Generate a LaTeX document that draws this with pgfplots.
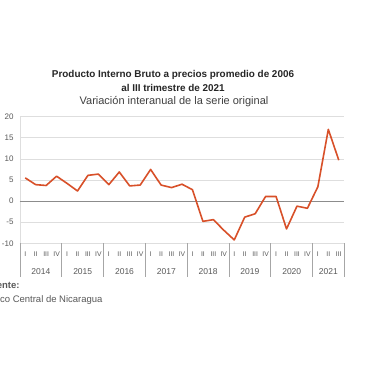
\documentclass[border=0pt]{standalone}
\usepackage{pgfplots}
\pgfplotsset{compat=1.18}
\usepackage{fontspec}
\setmainfont{Liberation Sans}
\definecolor{lineor}{RGB}{216,80,41}
\definecolor{txtgray}{RGB}{89,89,89}
\definecolor{gridgray}{RGB}{222,222,222}
\definecolor{axgray}{RGB}{166,166,166}
\definecolor{zerogray}{RGB}{140,140,140}
\begin{document}
\begin{tikzpicture}[x=1pt,y=1pt]
\useasboundingbox (0,0) rectangle (380,380);
\clip (0,0) rectangle (380,380);
\fill[white] (0,0) rectangle (380,380);
\node[font=\fontsize{9.9}{11}\selectfont\bfseries, text=black!85] at (173,305) {Producto Interno Bruto a precios promedio de 2006};
\node[font=\fontsize{9.9}{11}\selectfont\bfseries, text=black!85] at (173,292) {al III trimestre de 2021};
\node[font=\fontsize{11}{12}\selectfont, text=black!75] at (174,278) {Variación interanual de la serie original};
\node[anchor=west, inner sep=0pt, font=\fontsize{9.5}{11}\selectfont\bfseries, text=txtgray] at (-15,95) {Fuente:};
\node[anchor=west, inner sep=0pt, font=\fontsize{9.5}{11}\selectfont, text=txtgray] at (-17,80) {Banco Central de Nicaragua};
\begin{axis}[
  at={(20pt,136.7pt)}, anchor=south west,
  scale only axis, width=324pt, height=126.6pt,
  xmin=-0.5, xmax=30.5, ymin=-10, ymax=20,
  ytick={-10,-5,0,5,10,15,20},
  yticklabels={-10,-5,0,5,10,15,20},
  xtick={0,...,30},
  xticklabels={I,II,III,IV,I,II,III,IV,I,II,III,IV,I,II,III,IV,I,II,III,IV,I,II,III,IV,I,II,III,IV,I,II,III},
  ymajorgrids, grid style={gridgray, line width=0.7pt},
  axis lines=left,
  axis line style={-, draw=gridgray, line width=0.7pt},
  major tick length=0pt,
  xticklabel style={font=\fontsize{6.8}{7}\selectfont, text=txtgray, yshift=-5pt},
  yticklabel style={font=\fontsize{8}{9}\selectfont, text=txtgray, xshift=-3pt},
  clip=false,
]
\draw[zerogray, line width=0.8pt] (axis cs:-0.5,0) -- (axis cs:30.5,0);
\addplot[lineor, line width=1.6pt, no markers, line join=round] coordinates {
(0,5.5) (1,3.9) (2,3.7) (3,5.9)
(4,4.2) (5,2.4) (6,6.1) (7,6.4)
(8,3.9) (9,6.9) (10,3.6) (11,3.8)
(12,7.5) (13,3.8) (14,3.2) (15,4.0)
(16,2.7) (17,-4.8) (18,-4.4) (19,-6.9)
(20,-9.2) (21,-3.8) (22,-3.0) (23,1.1)
(24,1.1) (25,-6.6) (26,-1.2) (27,-1.7)
(28,3.4) (29,17.0) (30,9.7)
};
\draw[axgray, line width=0.8pt] (axis cs:-0.5,-10) -- ([yshift=-34pt]axis cs:-0.5,-10);
\draw[axgray, line width=0.8pt] (axis cs:3.5,-10) -- ([yshift=-34pt]axis cs:3.5,-10);
\draw[axgray, line width=0.8pt] (axis cs:7.5,-10) -- ([yshift=-34pt]axis cs:7.5,-10);
\draw[axgray, line width=0.8pt] (axis cs:11.5,-10) -- ([yshift=-34pt]axis cs:11.5,-10);
\draw[axgray, line width=0.8pt] (axis cs:15.5,-10) -- ([yshift=-34pt]axis cs:15.5,-10);
\draw[axgray, line width=0.8pt] (axis cs:19.5,-10) -- ([yshift=-34pt]axis cs:19.5,-10);
\draw[axgray, line width=0.8pt] (axis cs:23.5,-10) -- ([yshift=-34pt]axis cs:23.5,-10);
\draw[axgray, line width=0.8pt] (axis cs:27.5,-10) -- ([yshift=-34pt]axis cs:27.5,-10);
\draw[axgray, line width=0.8pt] (axis cs:30.5,-10) -- ([yshift=-34pt]axis cs:30.5,-10);
\node[font=\fontsize{8.5}{9}\selectfont, text=txtgray] at ([yshift=-28pt]axis cs:1.5,-10) {2014};
\node[font=\fontsize{8.5}{9}\selectfont, text=txtgray] at ([yshift=-28pt]axis cs:5.5,-10) {2015};
\node[font=\fontsize{8.5}{9}\selectfont, text=txtgray] at ([yshift=-28pt]axis cs:9.5,-10) {2016};
\node[font=\fontsize{8.5}{9}\selectfont, text=txtgray] at ([yshift=-28pt]axis cs:13.5,-10) {2017};
\node[font=\fontsize{8.5}{9}\selectfont, text=txtgray] at ([yshift=-28pt]axis cs:17.5,-10) {2018};
\node[font=\fontsize{8.5}{9}\selectfont, text=txtgray] at ([yshift=-28pt]axis cs:21.5,-10) {2019};
\node[font=\fontsize{8.5}{9}\selectfont, text=txtgray] at ([yshift=-28pt]axis cs:25.5,-10) {2020};
\node[font=\fontsize{8.5}{9}\selectfont, text=txtgray] at ([yshift=-28pt]axis cs:29,-10) {2021};
\end{axis}
\end{tikzpicture}
\end{document}
